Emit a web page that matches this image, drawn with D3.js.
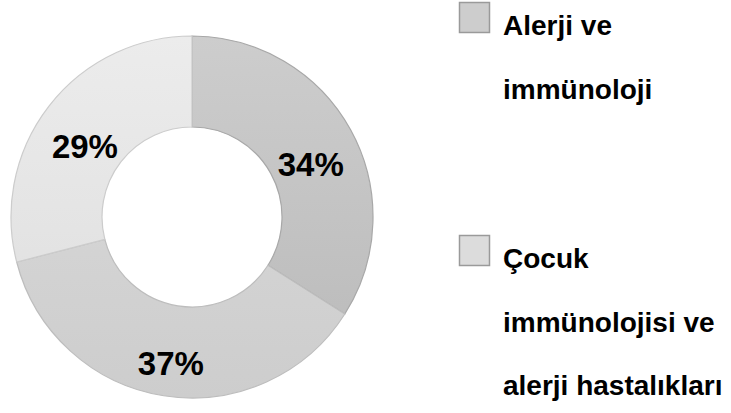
<!DOCTYPE html>
<html>
<head>
<meta charset="utf-8">
<script src="https://cdn.jsdelivr.net/npm/d3@7"></script>
<style>
  body { margin: 0; background: #fff; }
  text { font-family: "Liberation Sans", Arial, sans-serif; font-weight: bold; fill: #000; }
</style>
</head>
<body>
<div class="donut"></div>
<script>
const width = 731;
const height = 413;

// data
const values = [34, 37, 29];
const legendLines = [["Alerji ve", "immünoloji"], ["Çocuk", "immünolojisi ve", "alerji hastalıkları"]];
const colorsTop = ["#cdcdcd", "#dcdcdc", "#ececec"];
const colorsBottom = ["#b9b9b9", "#cdcdcd", "#dddddd"];
const strokes = ["#a8a8a8", "#bdbdbd", "#cccccc"];

const cx = 192, cy = 217;
const outerR = 181, innerR = 90;

const svg = d3.select('.donut').append('svg')
    .attr("width", width)
    .attr("height", height)

const defs = svg.append("defs")
values.forEach((v, i) => {
    const g = defs.append("linearGradient")
        .attr("id", "grad" + i)
        .attr("gradientUnits", "userSpaceOnUse")
        .attr("x1", 0).attr("y1", cy - outerR)
        .attr("x2", 0).attr("y2", cy + outerR)
    g.append("stop").attr("offset", "0%").attr("stop-color", colorsTop[i])
    g.append("stop").attr("offset", "100%").attr("stop-color", colorsBottom[i])
});

const pie = d3.pie().sort(null).value(d => d)
const arc = d3.arc().innerRadius(innerR).outerRadius(outerR)
const labelArc = d3.arc().innerRadius(innerR).outerRadius(outerR)

const chart = svg.append("g")
    .attr("transform", "translate(" + cx + "," + cy + ")")

const slices = pie(values)

chart.selectAll("path")
    .data(slices)
    .enter()
    .append("path")
    .attr("d", arc)
    .attr("fill", (d, i) => "url(#grad" + i + ")")
    .attr("transform", "translate(0," + 0 + ")")
    .attr("stroke", (d, i) => strokes[i])
    .attr("stroke-width", 1.2)
    .attr("fill-rule", "evenodd")

// gradient is in user space of the svg, so shift it for the group
defs.selectAll("linearGradient").attr("y1", -outerR).attr("y2", outerR)

chart.selectAll(".pct")
    .data(slices)
    .enter()
    .append("text")
    .attr("class", "pct")
    .attr("x", d => labelArc.centroid(d)[0])
    .attr("y", d => labelArc.centroid(d)[1] + 24)
    .attr("text-anchor", "middle")
    .style("font-size", "33px")
    .text(d => d.data + "%")

// legend
const legendY = [0, 233];
const legend = svg.append("g").attr("transform", "translate(459,2)")

legendLines.forEach((lines, i) => {
    const item = legend.append("g").attr("transform", "translate(0," + legendY[i] + ")")
    item.append("rect")
        .attr("x", 0.5).attr("y", 0.5)
        .attr("width", 30).attr("height", 30)
        .attr("fill", colorsTop[i])
        .attr("stroke", "#9a9a9a")
        .attr("stroke-width", 1.5)
    item.selectAll("text")
        .data(lines)
        .enter()
        .append("text")
        .attr("x", 44)
        .attr("y", (d, j) => 33 + j * 63.5)
        .style("font-size", "28px")
        .text(d => d)
});
</script>
</body>
</html>
